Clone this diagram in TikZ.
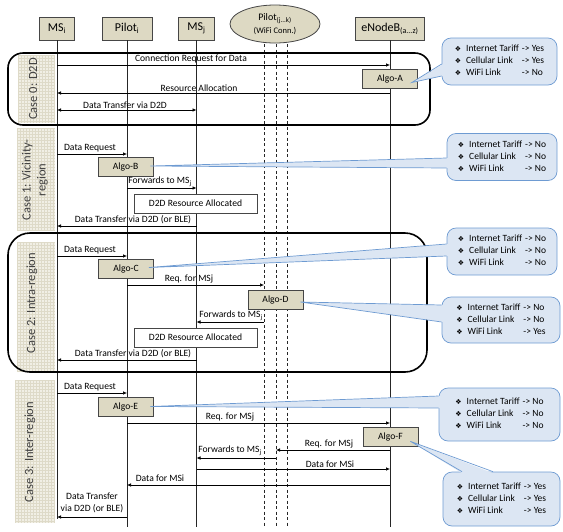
\documentclass[tikz,border=0pt]{standalone}
\usepackage{fontspec}
\setmainfont{Carlito}
\newfontfamily\symfont{DejaVu Sans}
\usetikzlibrary{arrows.meta,shapes.geometric,calc}
\definecolor{boxfill}{RGB}{221,217,195}
\definecolor{boxline}{RGB}{70,70,70}
\definecolor{calfill}{RGB}{220,230,243}
\definecolor{calline}{RGB}{110,155,210}
\definecolor{gridbg}{RGB}{241,239,229}
\definecolor{gridln}{RGB}{222,218,200}
\definecolor{labtxt}{RGB}{64,64,64}
\newcommand{\cbul}{{\symfont\fontsize{7}{8}\selectfont ❖}}
\newcommand{\calrows}[3]{%
\begin{tabular}{@{}l@{\hspace{5pt}}l@{\hspace{3pt}}l@{}}
\cbul & Internet Tariff & -> #1\\
\cbul & Cellular Link & -> #2\\
\cbul & WiFi Link & -> #3
\end{tabular}}
\newcommand{\gridbox}[4]{%
\fill[gridbg] (#1,#2) rectangle (#3,#4);
\begin{scope}
\clip (#1,#2) rectangle (#3,#4);
\foreach \gx in {0,3,...,42} \draw[gridln,line width=0.35pt] ({#1+\gx},#2) -- ({#1+\gx},#4);
\foreach \gy in {0,3,...,150} \draw[gridln,line width=0.35pt] (#1,{#2+\gy}) -- (#3,{#2+\gy});
\end{scope}}
\tikzset{
 hdr/.style={draw=boxline, fill=boxfill, line width=0.8pt, minimum height=23pt, inner sep=0pt, font=\fontsize{12}{14}\selectfont},
 algo/.style={draw=boxline, fill=boxfill, line width=0.6pt, minimum width=55pt, minimum height=19pt, inner sep=0pt, font=\fontsize{9.6}{11}\selectfont},
 resbox/.style={draw=boxline, fill=white, line width=0.6pt, minimum width=123pt, minimum height=19pt, inner sep=0pt, font=\fontsize{9.6}{11}\selectfont},
 life/.style={line width=0.6pt, draw=black!85},
 dlife/.style={line width=0.6pt, draw=black!85, dash pattern=on 3pt off 2.5pt},
 msg/.style={line width=0.6pt, -{Latex[length=4pt,width=3.5pt]}},
 dmsg/.style={line width=0.6pt, {Latex[length=4pt,width=3.5pt]}-{Latex[length=4pt,width=3.5pt]}},
 lbl/.style={font=\fontsize{9.6}{11}\selectfont, inner sep=0.5pt, anchor=south},
 caseframe/.style={line width=1.6pt, draw=black},
 callbox/.style={draw=calline, fill=calfill, line width=0.7pt, rounded corners=9pt, inner sep=0pt, font=\fontsize{9.5}{12}\selectfont},
 wedge/.style={draw=calline, line width=0.7pt},
 caselbl/.style={rotate=90, font=\fontsize{12.5}{15}\selectfont, text=labtxt, align=center, inner sep=0pt},
}
\begin{document}
\begin{tikzpicture}[x=1pt,y=-1pt]
\useasboundingbox (0,0) rectangle (563,531);

% case label backgrounds
\gridbox{18}{55}{55}{123}
\gridbox{17}{128}{55}{230}
\gridbox{17}{242}{55}{372}
\gridbox{15}{380}{55}{523}
\node[caselbl] (case0) at (33,89) {Case 0: D2D};
\node[caselbl] (case1) at (35,180) {Case 1: Vicinity-\\region};
\node[caselbl] (case2) at (32,303) {Case 2: Intra-region};
\node[caselbl] (case3) at (30,452) {Case 3: Inter-region};

% headers
\node[hdr, minimum width=35pt] (msi) at (57,28.5) {MS\textsubscript{i}};
\node[hdr, minimum width=50pt] (pil) at (127,28.5) {Pilot\textsubscript{i}};
\node[hdr, minimum width=36pt] (msj) at (196.5,28.5) {MS\textsubscript{j}};
\node[hdr, minimum width=69pt] (enb) at (390,28.5) {eNodeB\textsubscript{(a...z)}};
\node[ellipse, draw=boxline, fill=boxfill, line width=0.8pt, minimum width=90pt, minimum height=38pt, inner sep=0pt, align=center] (pk) at (275,24)
 {{\fontsize{10}{11}\selectfont Pilot\textsubscript{(j...k)}}\\[1pt]{\fontsize{8.5}{10}\selectfont (WiFi Conn.)}};
\coordinate (d1) at (264,44);
\coordinate (d2) at (276,44);
\coordinate (d3) at (287,44);

% lifelines
\draw[life] (msi.south) -- (msi |- 0,519);
\draw[life] (pil.south) -- (pil |- 0,527);
\draw[life] (msj.south) -- (msj |- 0,527);
\draw[life] (enb.south) -- (enb |- 0,527);
\draw[dlife] (d1) -- (d1 |- 0,527);
\draw[dlife] (d2) -- (d2 |- 0,527);
\draw[dlife] (d3) -- (d3 |- 0,527);

% case frames
\draw[caseframe, rounded corners=15pt] (8,53) rectangle (430,125);
\draw[caseframe, rounded corners=22pt] (8,233) rectangle (427,372);

% Case 0
\draw[msg] (msi |- 0,65) -- (enb |- 0,65);
\node[lbl] (l01) at (191,64) {Connection Request for Data};
\node[algo] (aA) at (390,78.5) {Algo-A};
\draw[msg] (enb |- 0,93) -- (msi |- 0,93);
\node[lbl] (l02) at (199,92) {Resource Allocation};
\draw[dmsg] (msi |- 0,110) -- (msj |- 0,110);
\node[lbl] (l03) at (125,109) {Data Transfer via D2D};

% Case 1
\draw[msg] (msi |- 0,154) -- (pil |- 0,154);
\node[lbl] (l11) at (90,153) {Data Request};
\node[algo] (aB) at (125.5,167) {Algo-B};
\draw[msg] (pil |- 0,188) -- (msj |- 0,188);
\node[lbl] (l12) at (160,187) {Forwards to MS\textsubscript{j}};
\node[resbox] (r1) at (195.5,203.5) {D2D Resource Allocated};
\draw[msg] (msj |- 0,226) -- (msi |- 0,226);
\node[lbl] (l13) at (133,225) {Data Transfer via D2D (or BLE)};

% Case 2
\draw[msg] (msi |- 0,256) -- (pil |- 0,256);
\node[lbl] (l21) at (90,255) {Data Request};
\node[algo] (aC) at (126,268.5) {Algo-C};
\draw[msg] (pil |- 0,285) -- (d1 |- 0,285);
\node[lbl] (l22) at (189,284) {Req. for MSj};
\node[algo] (aD) at (275.5,300) {Algo-D};
\draw[msg] (d1 |- 0,322) -- (msj |- 0,322);
\node[lbl] (l23) at (231,321) {Forwards to MS\textsubscript{j}};
\node[resbox] (r2) at (195.5,337.5) {D2D Resource Allocated};
\draw[msg] (msj |- 0,360) -- (msi |- 0,360);
\node[lbl] (l24) at (133,359) {Data Transfer via D2D (or BLE)};

% Case 3
\draw[msg] (msi |- 0,393) -- (pil |- 0,393);
\node[lbl] (l31) at (90,392) {Data Request};
\node[algo] (aE) at (125.5,406.5) {Algo-E};
\draw[msg] (pil |- 0,423) -- (enb |- 0,423);
\node[lbl] (l32) at (230,422) {Req. for MSj};
\node[algo] (aF) at (390.5,436.5) {Algo-F};
\draw[msg] (enb |- 0,450) -- (d2 |- 0,450);
\node[lbl] (l33) at (329,449) {Req. for MSj};
\draw[msg] (d2 |- 0,458) -- (msj |- 0,458);
\node[lbl] (l34) at (230,456) {Forwards to MS\textsubscript{j}};
\draw[msg] (msj |- 0,469) -- (enb |- 0,469);
\node[lbl] (l35) at (330,468) {Data for MSi};
\draw[msg] (enb |- 0,485) -- (pil |- 0,485);
\node[lbl] (l36) at (160,482) {Data for MSi};
\draw[msg] (pil |- 0,517) -- (msi |- 0,517);
\node[lbl, align=center, font=\fontsize{9.6}{12}\selectfont] (l37) at (92,514) {Data Transfer\\via D2D (or BLE)};

% callouts
\node[callbox, minimum width=115pt, minimum height=47pt] (cA) at (499.5,61.5) {\calrows{Yes}{Yes}{No}};
\node[callbox, minimum width=110pt, minimum height=47pt] (cB) at (502,157) {\calrows{No}{No}{No}};
\node[callbox, minimum width=110pt, minimum height=47pt] (cC) at (502,251.5) {\calrows{No}{No}{No}};
\node[callbox, minimum width=118pt, minimum height=46pt] (cD) at (501,320) {\calrows{No}{No}{Yes}};
\node[callbox, minimum width=121pt, minimum height=53pt] (cE) at (499.5,414.5) {\calrows{No}{No}{No}};
\node[callbox, minimum width=117pt, minimum height=54pt] (cF) at (501.5,499) {\calrows{Yes}{Yes}{Yes}};

% pointers
\coordinate (tA) at ($(aA.east)+(-6,4)$);
\coordinate (bA1) at (cA.west |- 0,64);
\coordinate (bA2) at (cA.west |- 0,76);
\fill[calfill] (tA) -- ($(bA1)+(1.5,0)$) -- ($(bA2)+(1.5,0)$) -- cycle;
\draw[wedge] (bA1) -- (tA) -- (bA2);

\coordinate (tB) at ($(aB.east)+(-3,-1)$);
\coordinate (bB1) at (cB.west |- 0,158);
\coordinate (bB2) at (cB.west |- 0,168);
\fill[calfill] (tB) -- ($(bB1)+(1.5,0)$) -- ($(bB2)+(1.5,0)$) -- cycle;
\draw[wedge] (bB1) -- (tB) -- (bB2);

\coordinate (tC) at ($(aC.east)+(-5,-1)$);
\coordinate (bC1) at (cC.west |- 0,244);
\coordinate (bC2) at (cC.west |- 0,256);
\fill[calfill] (tC) -- ($(bC1)+(1.5,0)$) -- ($(bC2)+(1.5,0)$) -- cycle;
\draw[wedge] (bC1) -- (tC) -- (bC2);

\coordinate (tD) at ($(aD.east)+(-3,2)$);
\coordinate (bD1) at (cD.west |- 0,305);
\coordinate (bD2) at (cD.west |- 0,322);
\fill[calfill] (tD) -- ($(bD1)+(1.5,0)$) -- ($(bD2)+(1.5,0)$) -- cycle;
\draw[wedge] (bD1) -- (tD) -- (bD2);

\coordinate (tE) at ($(aE.east)+(-3,0)$);
\coordinate (bE1) at (cE.west |- 0,396);
\coordinate (bE2) at (cE.west |- 0,408);
\fill[calfill] (tE) -- ($(bE1)+(1.5,0)$) -- ($(bE2)+(1.5,0)$) -- cycle;
\draw[wedge] (bE1) -- (tE) -- (bE2);

\coordinate (tF) at ($(aF.south east)+(-8,-5)$);
\coordinate (bF1) at (cF.north -| 462,0);
\coordinate (bF2) at (cF.north -| 493,0);
\fill[calfill] (tF) -- ($(bF1)+(0,1.5)$) -- ($(bF2)+(0,1.5)$) -- cycle;
\draw[wedge] (bF1) -- (tF) -- (bF2);
\end{tikzpicture}
\end{document}
